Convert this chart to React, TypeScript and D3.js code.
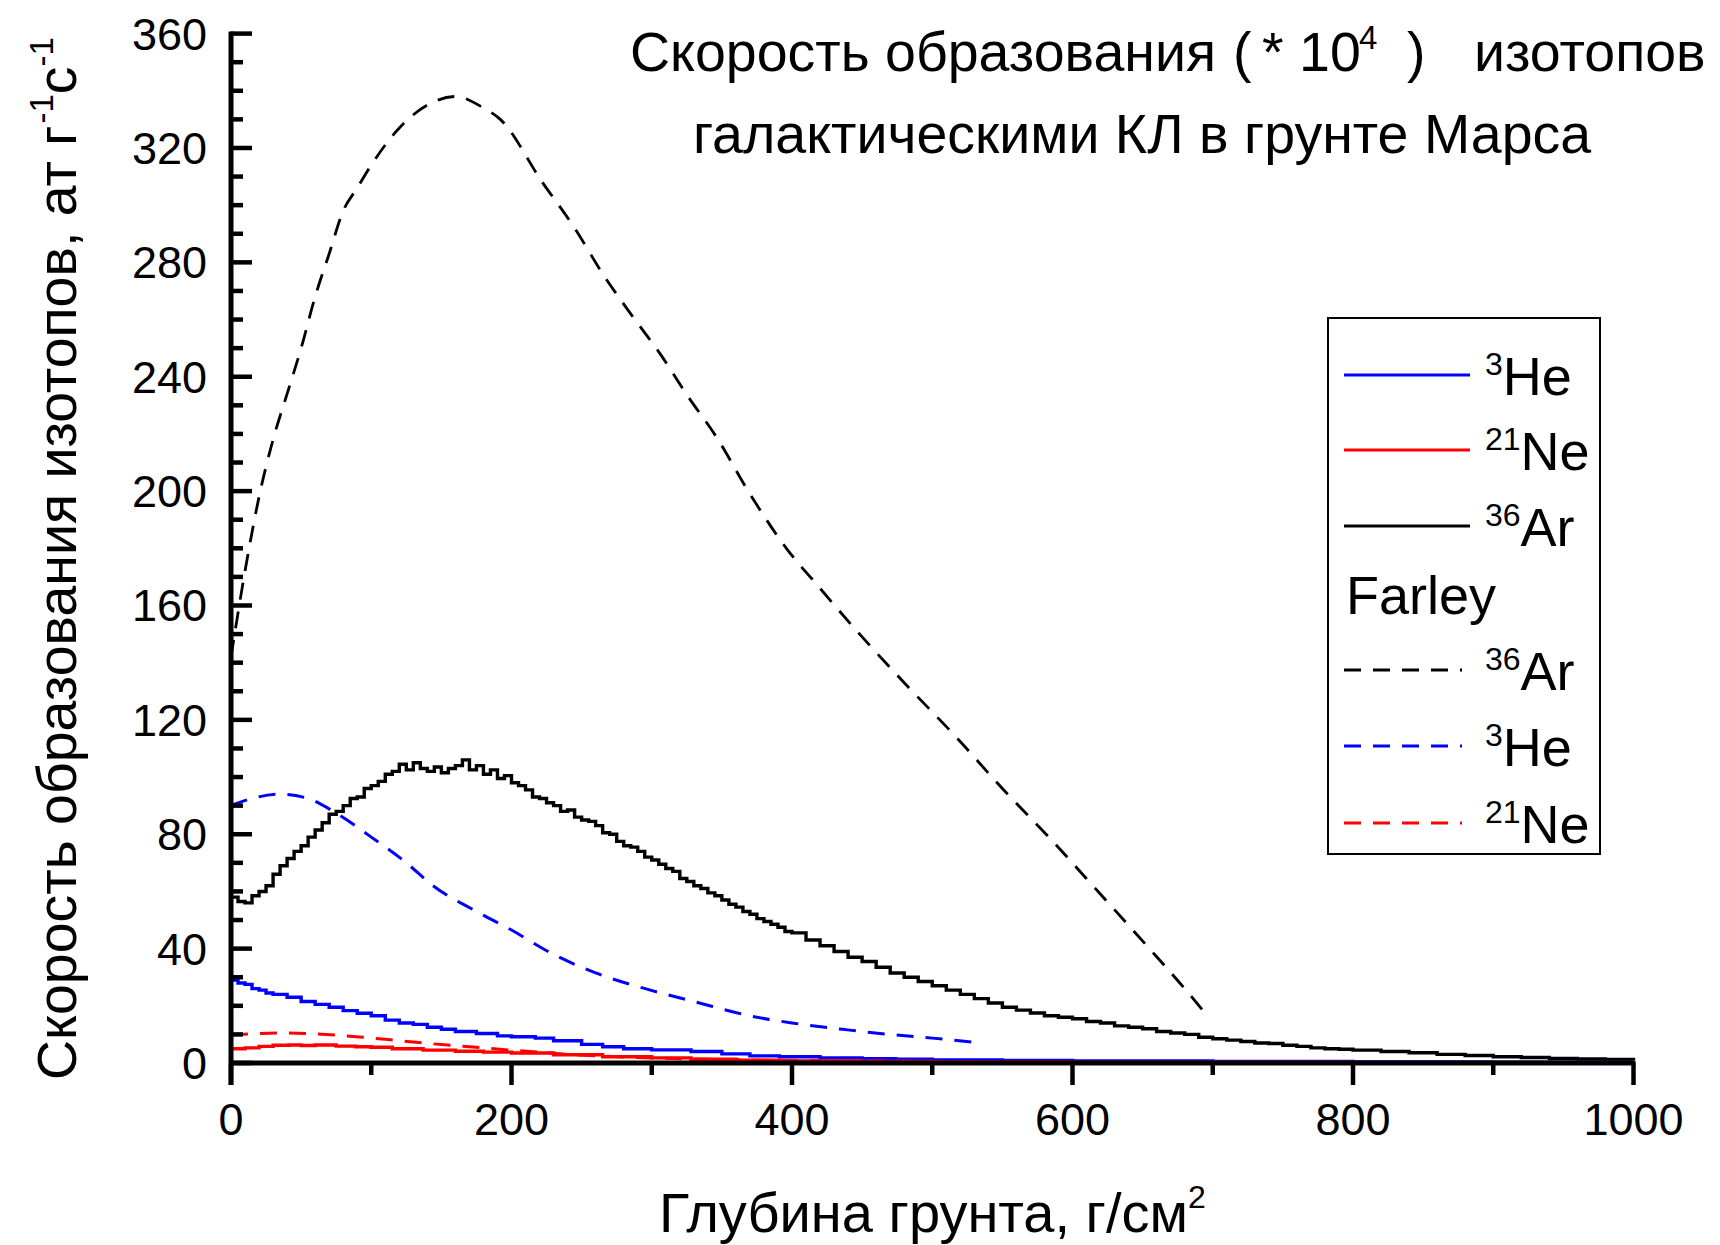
import React from 'react';
import {scaleLinear, line, curveStepAfter, curveMonotoneX, range} from 'd3';

// depth (g/cm2) vs production rate (*10^4 at g-1 s-1)
const ar36: [number, number][] = [
  [0,58],[5,56.5],[10,56],[15,58.5],[20,60],[25,62],[30,66],[35,69],[40,71.5],[45,74],[50,76],[55,79],
  [60,81.5],[65,84],[70,87],[75,88],[80,90],[85,92.5],[90,93],[95,96],[100,97],[105,98.5],[110,101],
  [115,102],[120,104.5],[125,102.5],[130,105],[135,103],[140,102],[145,103.5],[150,101.5],[155,103],
  [160,104],[165,106],[170,102.5],[175,104],[180,101],[185,102.5],[190,99.5],[195,100.5],[200,98],
  [205,97],[210,95.5],[215,93],[220,92.5],[225,91],[230,90],[235,88],[240,88.5],[245,86],[250,85],
  [255,84.5],[260,83],[265,80.5],[270,80],[275,77.5],[280,76],[285,75.5],[290,74],[295,72],[300,71],
  [305,69.5],[310,68],[315,67],[320,64.5],[325,63.5],[330,62],[335,61],[340,59.5],[345,58.5],[350,57],
  [355,55.5],[360,54.5],[365,53],[370,52],[375,50.5],[380,49.5],[385,48.5],[390,47.5],[395,46],[400,45.5],
  [410,43],[420,41],[430,39],[440,37],[450,35.5],[460,33.5],[470,31.5],[480,30],[490,28.5],[500,27],
  [510,25.5],[520,24],[530,22.5],[540,21],[550,19.5],[560,18.5],[570,17.5],[580,16.5],[590,16],[600,15.5],
  [610,14.5],[620,14],[630,13],[640,12.5],[650,12],[660,11],[670,10.5],[680,10],[690,9],[700,8.5],
  [710,8],[720,7.5],[730,7],[740,6.8],[750,6.2],[760,5.8],[770,5.3],[780,5],[790,4.8],[800,4.5],
  [820,4],[840,3.6],[860,3],[880,2.6],[900,2.2],[920,1.9],[940,1.6],[960,1.4],[980,1.2],[1000,1]
];
const he3: [number, number][] = [
  [0,29],[5,28],[10,27.5],[15,26],[20,25.5],[25,24.5],[30,24],[40,23],[50,21.5],[60,20.5],[70,19.5],
  [80,18.3],[90,17.4],[100,16.5],[110,15],[120,14],[130,13.5],[140,12.5],[150,11.8],[160,11],[175,10.3],
  [190,9.5],[200,9.2],[217,8.7],[230,7.8],[250,6.5],[265,5.7],[280,5],[300,4.6],[328,4],[350,3.2],
  [370,2.5],[391,2.2],[420,1.8],[450,1.5],[474,1.3],[500,1.1],[550,0.9],[600,0.7],[700,0.5],[800,0.4],
  [900,0.3],[1000,0.3]
];
const ne21: [number, number][] = [
  [0,5],[10,5.3],[20,5.8],[30,6.2],[41,6.3],[50,6.1],[60,6.3],[75,5.9],[89,5.7],[100,5.5],[115,5],
  [137,4.5],[160,4.1],[180,3.8],[200,3.5],[230,2.9],[265,2.2],[300,1.8],[328,1.3],[360,1],[391,0.7],
  [450,0.5],[500,0.4],[600,0.3],[700,0.25],[800,0.2],[1000,0.2]
];
// Farley
const farleyAr: [number, number][] = [
  [0,142],[10,172],[20,198],[30,218],[40,234],[50,250],[60,268],[70,283],[80,298],[90,306],[100,314],
  [120,327],[140,335],[160,338],[180,334],[192,330],[222,308],[245,292],[265,276],[285,262],[306,248],
  [326,233],[346,219],[370,199],[396,180],[420,166],[450,149],[480,133],[517,114],[550,96],[585,78],
  [620,59],[653,41],[680,26],[697,16]
];
const farleyHe: [number, number][] = [
  [0,90],[15,92.5],[35,94],[55,92.5],[73,88],[100,79],[125,70],[144,62],[175,53],[200,46.5],[228,38.5],
  [260,31.5],[299,25.5],[330,21.5],[370,16.5],[400,14],[441,11.5],[474,9.8],[500,8.7],[535,7]
];
const farleyNe: [number, number][] = [
  [0,9.8],[20,10.3],[40,10.5],[60,10.2],[89,9.2],[110,8.3],[137,7],[170,5.7],[200,4.5],[225,3.6],
  [248,2.8],[280,2.1],[320,1.5],[380,1],[450,0.7],[535,0.5]
];

const xTickLabels = [0, 200, 400, 600, 800, 1000];
const yTickLabels = [0, 40, 80, 120, 160, 200, 240, 280, 320, 360];

const legendItems = [
  {sup: '3', name: 'He', color: '#0000ff', dash: false},
  {sup: '21', name: 'Ne', color: '#ff0000', dash: false},
  {sup: '36', name: 'Ar', color: '#000000', dash: false},
  {sup: '36', name: 'Ar', color: '#000000', dash: true},
  {sup: '3', name: 'He', color: '#0000ff', dash: true},
  {sup: '21', name: 'Ne', color: '#ff0000', dash: true},
];

const FONT = '"Liberation Sans", Arial, sans-serif';

export default function App() {
  const W = 1720, H = 1245;
  const x = scaleLinear().domain([0, 1000]).range([231, 1633.5]);
  const y = scaleLinear().domain([0, 360]).range([1063, 33.6]);

  const stepLine = line<[number, number]>().x(d => x(d[0])).y(d => y(d[1])).curve(curveStepAfter);
  const smooth = line<[number, number]>().x(d => x(d[0])).y(d => y(d[1])).curve(curveMonotoneX);

  const dash = '17 12';
  const legendRows = [375, 450, 526, 670, 746, 823];

  return (
    <svg width={W} height={H} style={{display: 'block', background: '#fff', marginTop: -8, marginLeft: -8}}
         fontFamily={FONT}>
      {/* curves */}
      <path d={smooth(farleyAr) || ''} fill="none" stroke="#000" strokeWidth={2.8} strokeDasharray={dash}/>
      <path d={smooth(farleyHe) || ''} fill="none" stroke="#0000ff" strokeWidth={3} strokeDasharray={dash}/>
      <path d={stepLine(ar36) || ''} fill="none" stroke="#000" strokeWidth={3.4}/>
      <path d={stepLine(he3) || ''} fill="none" stroke="#0000ff" strokeWidth={3.4}/>
      <path d={smooth(farleyNe) || ''} fill="none" stroke="#ff0000" strokeWidth={3} strokeDasharray={dash}/>
      <path d={stepLine(ne21) || ''} fill="none" stroke="#ff0000" strokeWidth={3.4}/>

      {/* y axis */}
      <line x1={x(0)} x2={x(0)} y1={y(360) - 2} y2={y(0) + 22} stroke="#000" strokeWidth={5}/>
      {range(0, 361, 10).map(v => (
        <line key={'yt' + v} x1={x(0)} x2={x(0) + (v % 40 === 0 ? 21 : 12)} y1={y(v)} y2={y(v)}
              stroke="#000" strokeWidth={4.5}/>
      ))}
      {yTickLabels.map(v => (
        <text key={'yl' + v} x={207} y={y(v) + 16} textAnchor="end" fontSize={45}>{v}</text>
      ))}

      {/* x axis */}
      <line x1={x(0) - 2} x2={x(1000) + 2} y1={y(0)} y2={y(0)} stroke="#000" strokeWidth={5}/>
      {x.ticks(10).map(v => (
        <line key={'xt' + v} x1={x(v)} x2={x(v)} y1={y(0)} y2={y(0) + (v % 200 === 0 ? 22 : 12)}
              stroke="#000" strokeWidth={4.5}/>
      ))}
      {xTickLabels.map(v => (
        <text key={'xl' + v} x={x(v)} y={1135} textAnchor="middle" fontSize={45}>{v}</text>
      ))}

      {/* axis titles */}
      <text x={659} y={1232} fontSize={56}>
        Глубина грунта, г/см<tspan fontSize={32} dy={-24}>2</tspan>
      </text>
      <g transform="translate(76,1080) rotate(-90)">
        <text x={0} y={0} fontSize={55.5}>
          Скорость образования изотопов, ат г
          <tspan fontSize={33} dy={-23} dx={2}>-1</tspan>
          <tspan dy={23}>с</tspan>
          <tspan fontSize={33} dy={-23}>-1</tspan>
        </text>
      </g>

      {/* chart title */}
      <g fontSize={55.5}>
        <text x={630} y={71}>Скорость образования</text>
        <text x={1233} y={71}>(</text>
        <text x={1262} y={71}>* 10</text>
        <text x={1359} y={49} fontSize={33}>4</text>
        <text x={1407} y={71}>)</text>
        <text x={1474} y={71}>изотопов</text>
        <text x={693} y={153}>галактическими КЛ в грунте Марса</text>
      </g>

      {/* legend */}
      <rect x={1328} y={318} width={272} height={536} fill="#fff" stroke="#000" strokeWidth={2}/>
      {legendItems.map((it, i) => (
        <g key={'lg' + i}>
          <line x1={1344} x2={it.dash ? 1462 : 1470} y1={legendRows[i]} y2={legendRows[i]}
                stroke={it.color} strokeWidth={3} strokeDasharray={it.dash ? '17 12' : undefined}/>
          <text x={1485} y={legendRows[i] + 20} fontSize={54}>
            <tspan fontSize={32} dy={-20}>{it.sup}</tspan>
            <tspan dy={20}>{it.name}</tspan>
          </text>
        </g>
      ))}
      <text x={1346} y={614} fontSize={54}>Farley</text>
    </svg>
  );
}
